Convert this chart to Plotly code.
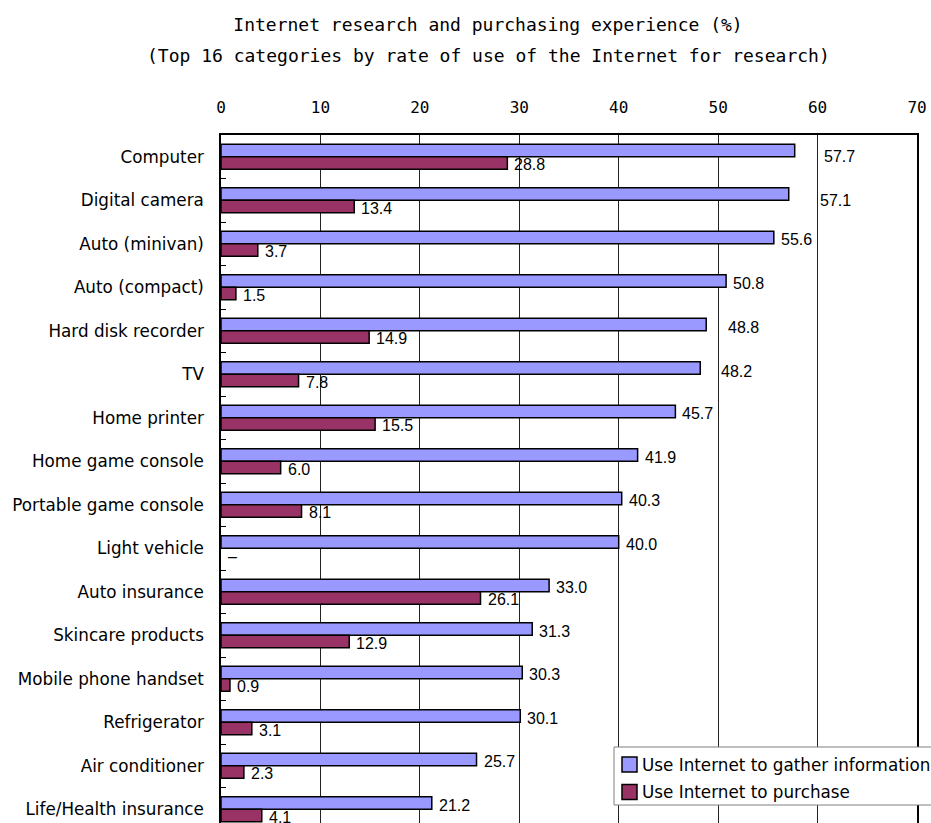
import plotly.graph_objects as go

# Categories, top to bottom
categories = [
    "Computer", "Digital camera", "Auto (minivan)", "Auto (compact)",
    "Hard disk recorder", "TV", "Home printer", "Home game console",
    "Portable game console", "Light vehicle", "Auto insurance",
    "Skincare products", "Mobile phone handset", "Refrigerator",
    "Air conditioner", "Life/Health insurance",
]

# Percentages per category
gather_info = [57.7, 57.1, 55.6, 50.8, 48.8, 48.2, 45.7, 41.9,
               40.3, 40.0, 33.0, 31.3, 30.3, 30.1, 25.7, 21.2]
purchase = [28.8, 13.4, 3.7, 1.5, 14.9, 7.8, 15.5, 6.0,
            8.1, None, 26.1, 12.9, 0.9, 3.1, 2.3, 4.1]

x_ticks = [0, 10, 20, 30, 40, 50, 60, 70]

series_names = ["Use Internet to gather information", "Use Internet to purchase"]

LAVENDER = "#9999FF"
MAROON = "#993366"
LABEL_FONT = dict(family="Liberation Sans", size=16, color="black")
TEXT_FONT = "DejaVu Sans"
MONO_FONT = "DejaVu Sans Mono"

# Figure / plot-area geometry in pixels
W, H = 931, 823
M_L, M_R, M_T, M_B = 221, 14, 135, 0
PW, PH = W - M_L - M_R, H - M_T - M_B


def px_x(px):
    return (px - M_L) / PW


def px_y(py):
    return (H - M_B - py) / PH


# Value labels that would sit on a gridline are pushed right (xshift, yshift)
label_nudge = {
    "Computer": (27, 0),
    "Digital camera": (29, 0),
    "Hard disk recorder": (20, 3),
    "TV": (19, 3),
}

fig = go.Figure()
fig.add_trace(go.Bar(
    y=categories, x=gather_info, orientation="h", name=series_names[0],
    marker=dict(color=LAVENDER, line=dict(color="black", width=1.5)),
    showlegend=False,
))
fig.add_trace(go.Bar(
    y=categories, x=purchase, orientation="h", name=series_names[1],
    marker=dict(color=MAROON, line=dict(color="black", width=1.5)),
    showlegend=False,
))

annotations = []
for cat, g, p in zip(categories, gather_info, purchase):
    dx, dy = label_nudge.get(cat, (5, 4))
    annotations.append(dict(
        x=g, y=cat, xref="x", yref="y", text=f"{g:.1f}",
        showarrow=False, xanchor="left", yanchor="middle",
        xshift=dx, yshift=dy, font=LABEL_FONT,
    ))
    annotations.append(dict(
        x=p if p is not None else 0, y=cat, xref="x", yref="y",
        text=f"{p:.1f}" if p is not None else "–",
        showarrow=False, xanchor="left", yanchor="middle",
        xshift=5, yshift=-8, font=LABEL_FONT,
    ))

# Second title line
annotations.append(dict(
    text="(Top 16 categories by rate of use of the Internet for research)",
    xref="paper", yref="paper", x=px_x(488), y=px_y(55),
    xanchor="center", yanchor="middle", showarrow=False,
    font=dict(family=MONO_FONT, size=18, color="black"),
))

# Legend box drawn in the lower right of the plot
shapes = [dict(
    type="rect", xref="paper", yref="paper", layer="above",
    x0=px_x(614), x1=px_x(980), y0=px_y(805), y1=px_y(747),
    fillcolor="white", line=dict(color="#808080", width=1),
)]
for i, (name, color) in enumerate(zip(series_names, [LAVENDER, MAROON])):
    cy = 764.5 + i * 27.5
    shapes.append(dict(
        type="rect", xref="paper", yref="paper", layer="above",
        x0=px_x(622), x1=px_x(637), y0=px_y(cy + 7.5), y1=px_y(cy - 7.5),
        fillcolor=color, line=dict(color="black", width=1.5),
    ))
    annotations.append(dict(
        text=name, xref="paper", yref="paper", x=px_x(640), y=px_y(cy),
        xanchor="left", yanchor="middle", showarrow=False,
        font=dict(family=TEXT_FONT, size=16.8, color="black"),
    ))

fig.update_layout(
    width=W, height=H,
    margin=dict(l=M_L, r=M_R, t=M_T, b=M_B, autoexpand=False),
    paper_bgcolor="white", plot_bgcolor="white",
    title=dict(
        text="Internet research and purchasing experience (%)",
        x=488 / W, xanchor="center", xref="container",
        y=1 - 25 / H, yanchor="middle", yref="container",
        font=dict(family=MONO_FONT, size=18, color="black"),
    ),
    barmode="group", bargap=0.425, bargroupgap=0,
    showlegend=False,
    annotations=annotations,
    shapes=shapes,
)

fig.update_xaxes(
    side="top", range=[0, 70], tickvals=x_ticks, ticks="",
    showgrid=True, gridcolor="#222222", gridwidth=1,
    showline=True, linecolor="black", linewidth=2, mirror=True,
    zeroline=False, ticklabelstandoff=14,
    tickfont=dict(family=MONO_FONT, size=16, color="black"),
)
fig.update_yaxes(
    type="category", categoryorder="array", categoryarray=categories,
    range=[15.316, -0.5], showgrid=False, zeroline=False,
    showline=True, linecolor="black", linewidth=1.5, mirror=True,
    ticks="inside", tickson="boundaries", ticklen=5, tickcolor="black",
    ticklabelstandoff=12,
    tickfont=dict(family=TEXT_FONT, size=16.8, color="black"),
)

fig.write_html("out.html")
